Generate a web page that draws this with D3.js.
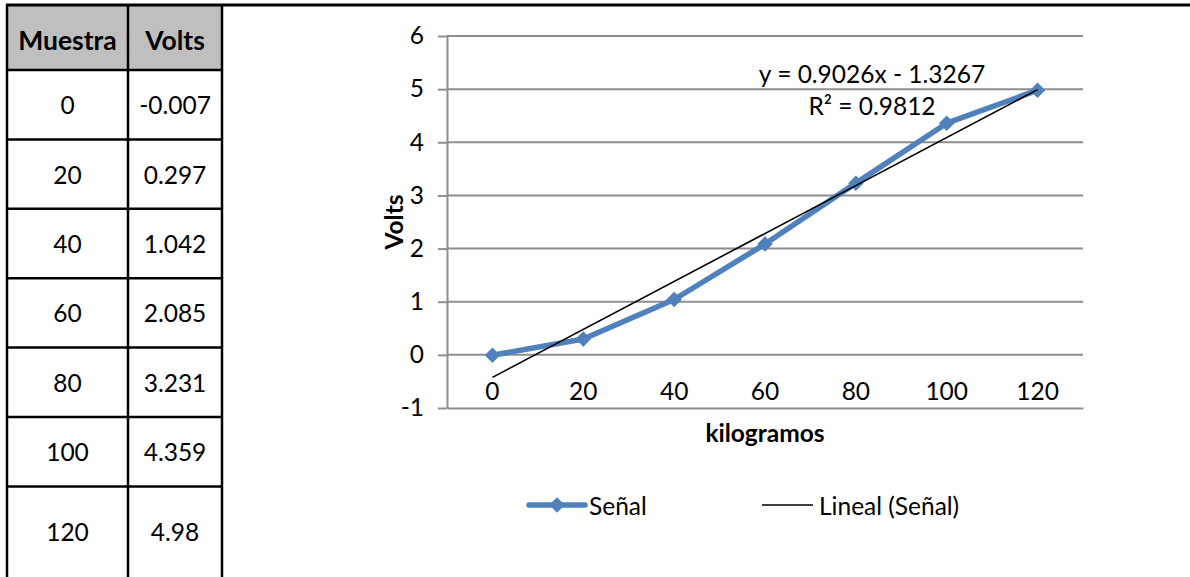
<!DOCTYPE html>
<html>
<head>
<meta charset="utf-8">
<script src="https://cdn.jsdelivr.net/npm/d3@7"></script>
<style>
  body { margin: 0; background: #fff; }
  svg { display: block; }
  text { font-family: Lato, "Open Sans", sans-serif; fill: #000; }
</style>
</head>
<body>
<svg id="chart" width="1190" height="577"></svg>
<script>
// Calibration data: load (kg) vs. sensor output (V)
const headers = ["Muestra", "Volts"];
const muestra = [0, 20, 40, 60, 80, 100, 120];
const voltsText = ["-0.007", "0.297", "1.042", "2.085", "3.231", "4.359", "4.98"];
const volts = voltsText.map(Number);
const yTicks = [-1, 0, 1, 2, 3, 4, 5, 6];
const trendSlope = 0.9026;
const trendIntercept = -1.3267;
const trendR2 = 0.9812;
const seriesName = "Señal";
const trendName = "Lineal (Señal)";
const xTitle = "kilogramos";
const yTitle = "Volts";

const svg = d3.select("#chart");
const FS = 24.5;
const FS_HEAD = 26.5;
const gridColor = "#8e8e8e";
const blue = "#4f81bd";

// ---------- table ----------
const colEdges = [7, 128, 222];
const headTop = 5, headBottom = 70, rowH = 69.4, tableBottom = 577;
const rowTop = i => headBottom + i * rowH;
const rowBottom = i => (i === muestra.length - 1 ? tableBottom : rowTop(i + 1));

const table = svg.append("g");
table.append("rect")
  .attr("x", colEdges[0]).attr("y", headTop)
  .attr("width", colEdges[2] - colEdges[0]).attr("height", headBottom - headTop)
  .attr("fill", "#bfbfbf");

// top rule across the page
svg.append("line")
  .attr("x1", 6).attr("x2", 1190).attr("y1", 5).attr("y2", 5)
  .attr("stroke", "#000").attr("stroke-width", 3);

// horizontal row borders
const hLines = [headBottom].concat(muestra.slice(1).map((d, i) => rowTop(i + 1)));
table.selectAll("line.h").data(hLines).join("line")
  .attr("x1", colEdges[0]).attr("x2", colEdges[2])
  .attr("y1", d => d).attr("y2", d => d)
  .attr("stroke", "#000").attr("stroke-width", 2.5);

// vertical column borders
table.selectAll("line.v").data(colEdges).join("line")
  .attr("x1", d => d).attr("x2", d => d)
  .attr("y1", headTop).attr("y2", tableBottom)
  .attr("stroke", "#000").attr("stroke-width", 2.5);

const colCenter = j => (colEdges[j] + colEdges[j + 1]) / 2;

table.selectAll("text.head").data(headers).join("text")
  .attr("x", (d, j) => colCenter(j)).attr("y", (headTop + headBottom) / 2 + 2)
  .attr("text-anchor", "middle").attr("dominant-baseline", "central")
  .attr("font-weight", "bold").attr("font-size", FS_HEAD)
  .text(d => d);

const rows = table.selectAll("g.row").data(muestra.map((m, i) => [String(m), voltsText[i]]))
  .join("g");
rows.selectAll("text").data((r, i) => r.map((v, j) => ({ v, j, i }))).join("text")
  .attr("x", d => colCenter(d.j))
  .attr("y", d => (rowTop(d.i) + rowBottom(d.i)) / 2)
  .attr("text-anchor", "middle").attr("dominant-baseline", "central")
  .attr("font-size", FS)
  .text(d => d.v);

// ---------- chart ----------
const plot = { left: 447, right: 1083, top: 36, bottom: 408 };
const x = d3.scaleBand().domain(muestra).range([plot.left, plot.right]);
const xc = d => x(d) + x.bandwidth() / 2;
const y = d3.scaleLinear().domain([-1, 6]).range([plot.bottom, plot.top]);

const chart = svg.append("g");

// horizontal gridlines
chart.append("g").selectAll("line").data(yTicks.filter(t => t > -1)).join("line")
  .attr("x1", plot.left).attr("x2", plot.right)
  .attr("y1", d => y(d)).attr("y2", d => y(d))
  .attr("stroke", gridColor).attr("stroke-width", 2);

// y axis
const yAxis = chart.append("g")
  .attr("transform", `translate(${plot.left},0)`)
  .call(d3.axisLeft(y).tickValues(yTicks).tickSize(9).tickSizeOuter(0).tickPadding(14)
    .tickFormat(d => String(d)));
yAxis.attr("font-family", null);
yAxis.select(".domain").attr("stroke", gridColor).attr("stroke-width", 2);
yAxis.selectAll(".tick line").attr("stroke", gridColor).attr("stroke-width", 2);
yAxis.selectAll(".tick text").attr("font-size", FS).attr("fill", "#000");

// x axis: labels sit just above the axis line
const xAxis = chart.append("g")
  .attr("transform", `translate(0,${plot.bottom})`)
  .call(d3.axisTop(x).tickSize(0).tickSizeOuter(0).tickPadding(8));
xAxis.attr("font-family", null);
xAxis.select(".domain").attr("stroke", gridColor).attr("stroke-width", 2);
xAxis.selectAll(".tick text").attr("font-size", FS).attr("fill", "#000");

// axis titles
chart.append("text")
  .attr("x", (plot.left + plot.right) / 2).attr("y", 432)
  .attr("text-anchor", "middle").attr("dominant-baseline", "central")
  .attr("font-weight", "bold").attr("font-size", FS)
  .text(xTitle);
chart.append("text")
  .attr("transform", `translate(393,${(plot.top + plot.bottom) / 2}) rotate(-90)`)
  .attr("text-anchor", "middle").attr("dominant-baseline", "central")
  .attr("font-weight", "bold").attr("font-size", FS)
  .text(yTitle);

// series line + diamond markers
const pts = muestra.map((m, i) => [xc(m), y(volts[i])]);
chart.append("path")
  .attr("d", d3.line()(pts))
  .attr("fill", "none").attr("stroke", blue).attr("stroke-width", 5.5)
  .attr("stroke-linejoin", "round").attr("stroke-linecap", "round");

const diamond = d3.symbol(d3.symbolSquare, 120);
chart.append("g").selectAll("path").data(pts).join("path")
  .attr("d", diamond)
  .attr("transform", d => `translate(${d[0]},${d[1]}) rotate(45)`)
  .attr("fill", blue);

// linear trendline over the category index 1..n
const n = muestra.length;
const trendPts = [1, n].map(k => [xc(muestra[k - 1]), y(trendSlope * k + trendIntercept)]);
chart.append("path")
  .attr("d", d3.line()(trendPts))
  .attr("fill", "none").attr("stroke", "#000").attr("stroke-width", 1.6);

// trendline equation
const eq = chart.append("g").attr("font-size", FS);
eq.append("text")
  .attr("x", 872).attr("y", 73)
  .attr("text-anchor", "middle").attr("dominant-baseline", "central")
  .text(`y = ${trendSlope}x - ${Math.abs(trendIntercept)}`);
eq.append("text")
  .attr("x", 872).attr("y", 105)
  .attr("text-anchor", "middle").attr("dominant-baseline", "central")
  .text(`R² = ${trendR2}`);

// legend
const legY = 505;
const leg = chart.append("g");
leg.append("line").attr("x1", 529).attr("x2", 585).attr("y1", legY).attr("y2", legY)
  .attr("stroke", blue).attr("stroke-width", 5.5).attr("stroke-linecap", "round");
leg.append("path").attr("d", diamond)
  .attr("transform", `translate(557,${legY}) rotate(45)`).attr("fill", blue);
leg.append("text").attr("x", 589).attr("y", legY)
  .attr("dominant-baseline", "central").attr("font-size", FS).text(seriesName);
leg.append("line").attr("x1", 762).attr("x2", 813).attr("y1", legY).attr("y2", legY)
  .attr("stroke", "#000").attr("stroke-width", 1.6);
leg.append("text").attr("x", 819).attr("y", legY)
  .attr("dominant-baseline", "central").attr("font-size", FS).text(trendName);
</script>
</body>
</html>
